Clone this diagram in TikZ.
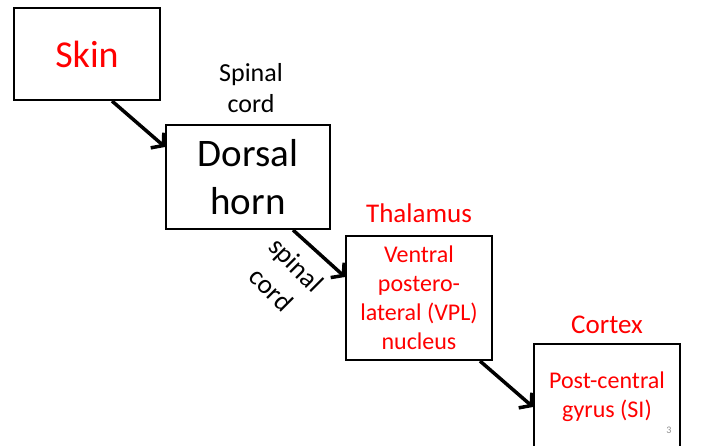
\documentclass[tikz,border=0pt]{standalone}
\usepackage{fontspec}
\setmainfont{Carlito}
\usetikzlibrary{arrows.meta}
\tikzset{
  box/.style={draw=black, line width=2pt, inner sep=0pt},
  arr/.style={line width=3.5pt, -{Straight Barb[length=8pt,width=20pt]}},
  redtext/.style={text=red, align=center, inner sep=0pt},
  blacktext/.style={text=black, align=center, inner sep=0pt},
}
\begin{document}
\begin{tikzpicture}[x=1pt,y=-1pt]
\useasboundingbox (0,0) rectangle (706,445);
\clip (0,0) rectangle (706,445);
\fill[white] (0,0) rectangle (706,445);
% boxes
\node[box, minimum width=146pt, minimum height=92pt, redtext, font=\fontsize{38}{44}\selectfont] (skin) at (87,54) {Skin};
\node[box, minimum width=164pt, minimum height=104pt, blacktext, font=\fontsize{39}{48}\selectfont] (dorsal) at (248,177) {Dorsal\\horn};
\node[box, minimum width=146pt, minimum height=124pt, redtext, font=\fontsize{24}{29}\selectfont] (vpl) at (419,298) {Ventral\\postero-\\lateral (VPL)\\nucleus};
\node[box, minimum width=146pt, minimum height=124pt] (cortex) at (607,406) {};
\node[redtext, font=\fontsize{24}{29}\selectfont] (si) at (607,397) {Post-central\\gyrus (SI)};
% labels
\node[blacktext, font=\fontsize{26}{31}\selectfont] (spinal) at (251,88) {Spinal\\cord};
\node[redtext, font=\fontsize{27}{32}\selectfont] (thal) at (419,213) {Thalamus};
\node[redtext, font=\fontsize{27}{32}\selectfont] (ctx) at (607,325) {Cortex};
\node[blacktext, font=\fontsize{27}{35}\selectfont, rotate=-45] (spinal2) at (284,277) {spinal\\cord};
\node[text=black!45, inner sep=0pt, font=\fontsize{10}{12}\selectfont] (pg) at (669,430) {3};
% arrows
\draw[arr] ([xshift=25pt]skin.south) -- ([yshift=-23pt]dorsal.north west);
\draw[arr] ([xshift=45pt]dorsal.south) -- ([yshift=-42pt]vpl.north west);
\draw[arr] ([xshift=61pt]vpl.south) -- ([yshift=-64pt]cortex.north west);
\end{tikzpicture}
\end{document}
